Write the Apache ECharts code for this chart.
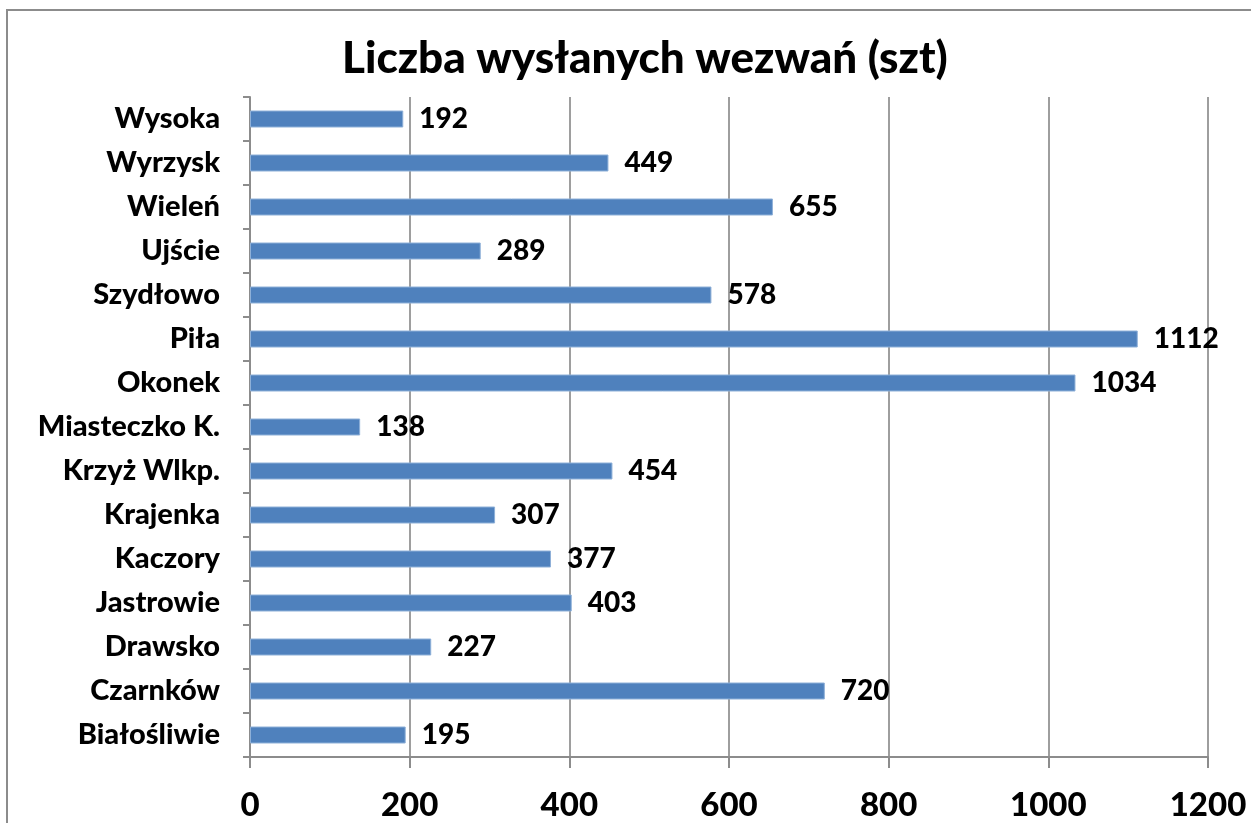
<!DOCTYPE html>
<html>
<head>
<meta charset="utf-8">
<title>Liczba wysłanych wezwań</title>
<script src="https://cdn.jsdelivr.net/npm/echarts@6/dist/echarts.min.js"></script>
<style>
  html, body { margin: 0; padding: 0; background: #fff; }
  #chart { width: 1251px; height: 823px; }
</style>
</head>
<body>
<div id="chart"></div>
<script>
// dane z wykresu (od dołu do góry, jak na osi kategorii)
const gminy = ['Białośliwie', 'Czarnków', 'Drawsko', 'Jastrowie', 'Kaczory', 'Krajenka', 'Krzyż Wlkp.',
  'Miasteczko K.', 'Okonek', 'Piła', 'Szydłowo', 'Ujście', 'Wieleń', 'Wyrzysk', 'Wysoka'];
const wezwania = [195, 720, 227, 403, 377, 307, 454, 138, 1034, 1112, 578, 289, 655, 449, 192];
const tytul = 'Liczba wysłanych wezwań (szt)';

const chart = echarts.init(document.getElementById('chart'));
const font = 'Lato, "Open Sans", sans-serif';
const waga = 900;

chart.setOption({
  animation: false,
  title: {
    text: tytul,
    left: 337,
    top: 32,
    textStyle: { fontFamily: font, fontSize: 44, fontWeight: waga, color: '#000' }
  },
  graphic: [{
    type: 'rect',
    silent: true,
    z: -1,
    shape: { x: 7, y: 10, width: 1300, height: 900 },
    style: { fill: 'none', stroke: '#8c8c8c', lineWidth: 2 }
  }],
  grid: { left: 250, right: 43, top: 97, bottom: 66 },
  xAxis: {
    type: 'value',
    min: 0,
    max: 1200,
    interval: 200,
    axisLine: { show: true, lineStyle: { color: '#8c8c8c', width: 2 } },
    axisTick: { show: true, length: 11, lineStyle: { color: '#8c8c8c', width: 2 } },
    splitLine: { show: true, lineStyle: { color: '#9e9e9e', width: 2 } },
    axisLabel: {
      margin: 32,
      formatter: v => String(v),
      fontFamily: font, fontSize: 33, fontWeight: waga, color: '#000'
    }
  },
  yAxis: {
    type: 'category',
    data: gminy,
    axisLine: { show: true, lineStyle: { color: '#8c8c8c', width: 2 } },
    axisTick: { show: true, length: 7, lineStyle: { color: '#8c8c8c', width: 2 } },
    axisLabel: { margin: 30, fontFamily: font, fontSize: 29, fontWeight: waga, color: '#000' }
  },
  series: [{
    type: 'bar',
    data: wezwania,
    barWidth: 17,
    itemStyle: { color: '#4f81bd', borderColor: '#8eb0d8', borderWidth: 1 },
    label: {
      show: true,
      position: 'right',
      distance: 16,
      fontFamily: font,
      fontSize: 28,
      fontWeight: waga,
      color: '#000'
    }
  }]
});
</script>
</body>
</html>
